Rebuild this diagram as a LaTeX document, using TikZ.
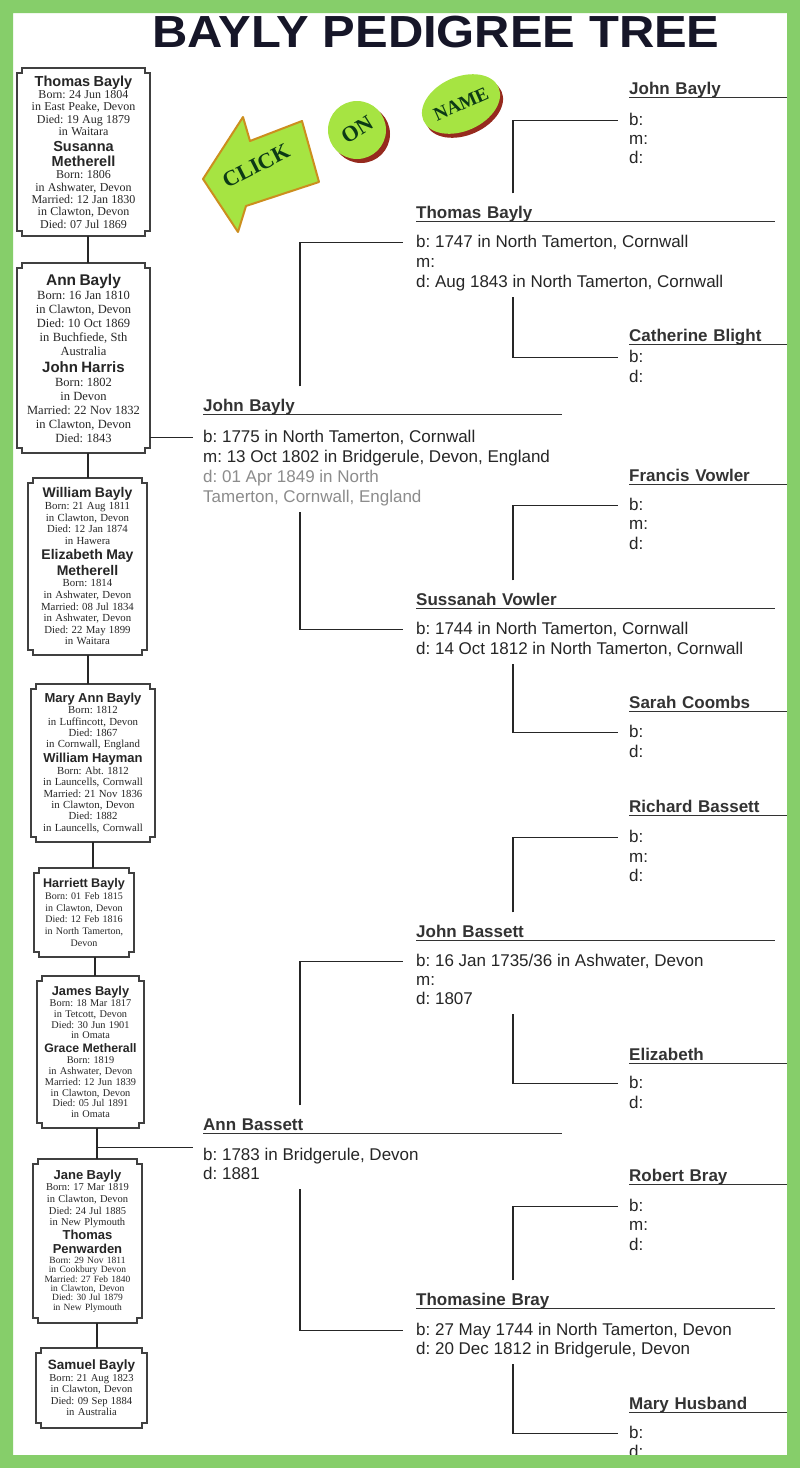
\documentclass[tikz,border=0pt]{standalone}
\usepackage{fontspec}
\setmainfont{Liberation Sans}
\newfontfamily\cardserif{Liberation Serif}
\usetikzlibrary{shapes.geometric,shadows}
\setlength\parindent{0pt}
\frenchspacing

\definecolor{leafgreen}{RGB}{134,206,106}
\definecolor{limegreen}{RGB}{166,228,66}
\definecolor{buttonred}{RGB}{150,42,30}
\definecolor{arrowgold}{RGB}{204,142,30}
\definecolor{clickink}{RGB}{12,58,22}
\definecolor{titleink}{RGB}{22,22,40}
\definecolor{fadegray}{RGB}{140,140,140}

% bold name / serif facts inside the family cards
\newcommand\kin[3]{{\fontsize{#1}{#2}\selectfont\bfseries #3\par}}
\newcommand\kinfo[3]{{\fontsize{#1}{#2}\selectfont\cardserif #3\par}}
% frame with notched corners round a card
\newcommand\cardframe[1]{%
  \draw[cardedge] ([xshift=5pt]#1.north west) -- ([xshift=-5pt]#1.north east)
    -- ([shift={(-5pt,-5pt)}]#1.north east) -- ([yshift=-5pt]#1.north east)
    -- ([yshift=5pt]#1.south east) -- ([shift={(-5pt,5pt)}]#1.south east)
    -- ([xshift=-5pt]#1.south east) -- ([xshift=5pt]#1.south west)
    -- ([shift={(5pt,5pt)}]#1.south west) -- ([yshift=5pt]#1.south west)
    -- ([yshift=-5pt]#1.north west) -- ([shift={(5pt,-5pt)}]#1.north west)
    -- cycle;}

\begin{document}
\begin{tikzpicture}[
    x=1pt, y=-1pt,
    card/.style={inner xsep=4pt, inner ysep=0pt, align=center, text=black!85},
    cardedge/.style={draw=black!75, line width=2.2pt, line join=miter},
    link/.style={draw=black!85, line width=1.2pt},
    underrule/.style={draw=black!80, line width=0.9pt},
    pname/.style={
        font=\fontsize{17}{20}\selectfont\bfseries,
        text=black!80,
        anchor=base west,
        inner sep=0pt,
        text height=12.5pt,
        text depth=3pt,
        text width=#1,
        align=left,
        append after command={(\tikzlastnode.south west) edge[underrule] (\tikzlastnode.south east)}
    },
    fact/.style={
        font=\fontsize{17}{20}\selectfont,
        text=black!85,
        anchor=base west,
        inner sep=0pt,
        text height=12.5pt,
        text depth=4pt
    }
]
    \useasboundingbox (0,0) rectangle (800,1468);
    \fill[white] (0,0) rectangle (800,1468);

    \node[font=\fontsize{45}{50}\selectfont\bfseries, text=titleink, anchor=base] (title) at (436,47)
        {\scalebox{1.087}[1]{BAYLY PEDIGREE TREE}};

    % click on name
    \fill[limegreen, draw=arrowgold, line width=2pt, line join=round]
        (203,179) -- (243,117) -- (250,141) -- (302,121) -- (319,182) -- (246,206) -- (238,232) -- cycle;
    \node[rotate=27, font=\fontsize{22}{22}\selectfont\cardserif\bfseries, text=clickink] (clicktag)
        at (256,166) {CLICK};
    \node[circle, fill=limegreen, minimum size=58pt, inner sep=0pt,
        general shadow={fill=buttonred, shadow xshift=4pt, shadow yshift=-4pt},
        font=\fontsize{22}{22}\selectfont\cardserif\bfseries, text=clickink] (onbtn)
        at (357,130) {\rotatebox{32}{ON}};
    \node[ellipse, fill=limegreen, minimum width=76pt, minimum height=54pt, inner sep=0pt, rotate=24,
        general shadow={fill=buttonred, shadow xshift=3pt, shadow yshift=-4pt},
        font=\fontsize{19}{19}\selectfont\cardserif\bfseries, text=clickink] (namebtn)
        at (461,104) {NAME};

    % family cards
    \node[card, text width=125pt, minimum height=168pt] (c1) at (83.5,152) {%
        \kin{14.5}{15.5}{Thomas Bayly}%
        \kinfo{12}{12.3}{Born: 24 Jun 1804\\in East Peake, Devon\\Died: 19 Aug 1879\\in Waitara}%
        \kin{14.5}{15.5}{Susanna\\Metherell}%
        \kinfo{12}{12.3}{Born: 1806\\in Ashwater, Devon\\Married: 12 Jan 1830\\in Clawton, Devon\\Died: 07 Jul 1869}};
    \node[card, text width=125pt, minimum height=190pt] (c2) at (83.5,358) {%
        \kin{15.5}{17}{Ann Bayly}%
        \kinfo{12.5}{14}{Born: 16 Jan 1810\\in Clawton, Devon\\Died: 10 Oct 1869\\in Buchfiede, Sth\\Australia}%
        \kin{15}{17}{John Harris}%
        \kinfo{12.5}{14}{Born: 1802\\in Devon\\Married: 22 Nov 1832\\in Clawton, Devon\\Died: 1843}};
    \node[card, text width=111pt, minimum height=177pt] (c3) at (87.5,566.5) {%
        \kin{14}{15.5}{William Bayly}%
        \kinfo{10.8}{11.6}{Born: 21 Aug 1811\\in Clawton, Devon\\Died: 12 Jan 1874\\in Hawera}%
        \kin{14}{15.5}{Elizabeth May\\Metherell}%
        \kinfo{10.8}{11.6}{Born: 1814\\in Ashwater, Devon\\Married: 08 Jul 1834\\in Ashwater, Devon\\Died: 22 May 1899\\in Waitara}};
    \node[card, text width=116pt, minimum height=158pt] (c4) at (93,763) {%
        \kin{13}{15}{Mary Ann Bayly}%
        \kinfo{10.8}{11.4}{Born: 1812\\in Luffincott, Devon\\Died: 1867\\in Cornwall, England}%
        \kin{13}{15}{William Hayman}%
        \kinfo{10.8}{11.4}{Born: Abt. 1812\\in Launcells, Cornwall\\Married: 21 Nov 1836\\in Clawton, Devon\\Died: 1882\\in Launcells, Cornwall}};
    \node[card, text width=92pt, minimum height=89pt] (c5) at (84,912.5) {%
        \kin{12.6}{14}{Harriett Bayly}%
        \kinfo{10}{11.7}{Born: 01 Feb 1815\\in Clawton, Devon\\Died: 12 Feb 1816\\in North Tamerton,\\Devon}};
    \node[card, text width=99pt, minimum height=152pt] (c6) at (90.5,1052) {%
        \kin{12.8}{14.5}{James Bayly}%
        \kinfo{10.3}{10.8}{Born: 18 Mar 1817\\in Tetcott, Devon\\Died: 30 Jun 1901\\in Omata}%
        \kin{12.3}{14}{Grace Metherall}%
        \kinfo{10.3}{10.8}{Born: 1819\\in Ashwater, Devon\\Married: 12 Jun 1839\\in Clawton, Devon\\Died: 05 Jul 1891\\in Omata}};
    \node[card, text width=101pt, minimum height=164pt] (c7) at (87.5,1241) {%
        \kin{13}{14.5}{Jane Bayly}%
        \kinfo{10.5}{11.7}{Born: 17 Mar 1819\\in Clawton, Devon\\Died: 24 Jul 1885\\in New Plymouth}%
        \kin{13}{14}{Thomas\\Penwarden}%
        \kinfo{9.5}{9.4}{Born: 29 Nov 1811\\in Cookbury Devon\\Married: 27 Feb 1840\\in Clawton, Devon\\Died: 30 Jul 1879\\in New Plymouth}};
    \node[card, text width=103pt, minimum height=80pt] (c8) at (91.5,1388) {%
        \kin{13.5}{15}{Samuel Bayly}%
        \kinfo{10.6}{11.5}{Born: 21 Aug 1823\\in Clawton, Devon\\Died: 09 Sep 1884\\in Australia}};
    \foreach \k in {1,...,8}
        \cardframe{c\k};

    \foreach \a/\b/\dx in {c1/c2/4.5, c2/c3/4.5, c3/c4/0.5, c4/c5/0, c5/c6/11, c7/c8/9.5}
        \draw[link] ([xshift=\dx pt]\a.south) -- ([xshift=\dx pt]\a.south |- \b.north);
    \coordinate (j67) at ([xshift=6.5pt]c6.south);
    \draw[link] (j67) -- (j67 |- c7.north);

    % generation 1
    \node[pname=359pt] (jb1) at (203,411) {John Bayly};
    \node[fact] (jb1b) at (203,442) {b: 1775 in North Tamerton, Cornwall};
    \node[fact] (jb1m) at (203,462) {m: 13 Oct 1802 in Bridgerule, Devon, England};
    \node[fact, text=fadegray] (jb1d) at (203,482) {d: 01 Apr 1849 in North};
    \node[fact, text=fadegray] (jb1t) at (203,502) {Tamerton, Cornwall, England};

    \node[pname=359pt] (ab1) at (203,1130) {Ann Bassett};
    \node[fact] (ab1b) at (203,1160) {b: 1783 in Bridgerule, Devon};
    \node[fact] (ab1d) at (203,1179) {d: 1881};

    \coordinate (jb1hook) at ([xshift=-10pt]jb1b.west);
    \draw[link] (c2.east |- jb1hook) -- (jb1hook);
    \coordinate (ab1hook) at ([shift={(-10pt,8pt)}]ab1b.west);
    \draw[link] (j67 |- ab1hook) -- (ab1hook);

    % generation 2
    \node[pname=359pt] (tb2) at (416,218) {Thomas Bayly};
    \node[fact] (tb2b) at (416,247) {b: 1747 in North Tamerton, Cornwall};
    \node[fact] (tb2m) at (416,267) {m:};
    \node[fact] (tb2d) at (416,287) {d: Aug 1843 in North Tamerton, Cornwall};

    \node[pname=359pt] (sv2) at (416,605) {Sussanah Vowler};
    \node[fact] (sv2b) at (416,634) {b: 1744 in North Tamerton, Cornwall};
    \node[fact] (sv2d) at (416,654) {d: 14 Oct 1812 in North Tamerton, Cornwall};

    \node[pname=359pt] (jbs2) at (416,937) {John Bassett};
    \node[fact] (jbs2b) at (416,966) {b: 16 Jan 1735/36 in Ashwater, Devon};
    \node[fact] (jbs2m) at (416,985) {m:};
    \node[fact] (jbs2d) at (416,1004) {d: 1807};

    \node[pname=359pt] (tbr2) at (416,1305) {Thomasine Bray};
    \node[fact] (tbr2b) at (416,1335) {b: 27 May 1744 in North Tamerton, Devon};
    \node[fact] (tbr2d) at (416,1354) {d: 20 Dec 1812 in Bridgerule, Devon};

    % generation 3
    \node[pname=158pt] (jb3) at (629,94) {John Bayly};
    \node[fact] (jb3b) at (629,125) {b:};
    \node[fact] (jb3m) at (629,144) {m:};
    \node[fact] (jb3d) at (629,163) {d:};

    \node[pname=158pt] (cb3) at (629,341) {Catherine Blight};
    \node[fact] (cb3b) at (629,362) {b:};
    \node[fact] (cb3d) at (629,382) {d:};

    \node[pname=158pt] (fv3) at (629,481) {Francis Vowler};
    \node[fact] (fv3b) at (629,510) {b:};
    \node[fact] (fv3m) at (629,529) {m:};
    \node[fact] (fv3d) at (629,549) {d:};

    \node[pname=158pt] (sc3) at (629,708) {Sarah Coombs};
    \node[fact] (sc3b) at (629,737) {b:};
    \node[fact] (sc3d) at (629,757) {d:};

    \node[pname=158pt] (rb3) at (629,812) {Richard Bassett};
    \node[fact] (rb3b) at (629,842) {b:};
    \node[fact] (rb3m) at (629,862) {m:};
    \node[fact] (rb3d) at (629,881) {d:};

    \node[pname=158pt] (el3) at (629,1060) {Elizabeth};
    \node[fact] (el3b) at (629,1088) {b:};
    \node[fact] (el3d) at (629,1108) {d:};

    \node[pname=158pt] (rbr3) at (629,1181) {Robert Bray};
    \node[fact] (rbr3b) at (629,1211) {b:};
    \node[fact] (rbr3m) at (629,1230) {m:};
    \node[fact] (rbr3d) at (629,1250) {d:};

    \node[pname=158pt] (mh3) at (629,1409) {Mary Husband};
    \node[fact] (mh3b) at (629,1438) {b:};
    \node[fact] (mh3d) at (629,1457) {d:};

    % parents
    \draw[link] ([xshift=97pt,yshift=12pt]jb1.north west) |- ([xshift=-13pt]tb2b.west);
    \draw[link] ([xshift=97pt,yshift=-6pt]jb1t.south west) |- ([xshift=-13pt]sv2b.west);
    \draw[link] ([xshift=97pt,yshift=12pt]ab1.north west) |- ([xshift=-13pt]jbs2b.west);
    \draw[link] ([xshift=97pt,yshift=-6pt]ab1d.south west) |- ([xshift=-13pt]tbr2b.west);

    \draw[link] ([xshift=97pt,yshift=12pt]tb2.north west) |- ([xshift=-11pt]jb3b.west);
    \draw[link] ([xshift=97pt,yshift=-6pt]tb2d.south west) |- ([xshift=-11pt]cb3b.west);
    \draw[link] ([xshift=97pt,yshift=12pt]sv2.north west) |- ([xshift=-11pt]fv3b.west);
    \draw[link] ([xshift=97pt,yshift=-6pt]sv2d.south west) |- ([xshift=-11pt]sc3b.west);
    \draw[link] ([xshift=97pt,yshift=12pt]jbs2.north west) |- ([xshift=-11pt]rb3b.west);
    \draw[link] ([xshift=97pt,yshift=-6pt]jbs2d.south west) |- ([xshift=-11pt]el3b.west);
    \draw[link] ([xshift=97pt,yshift=12pt]tbr2.north west) |- ([xshift=-11pt]rbr3b.west);
    \draw[link] ([xshift=97pt,yshift=-6pt]tbr2d.south west) |- ([xshift=-11pt]mh3b.west);

    % green frame
    \fill[leafgreen, even odd rule] (0,0) rectangle (800,1468) (13,13) rectangle (787,1455);
\end{tikzpicture}
\end{document}
